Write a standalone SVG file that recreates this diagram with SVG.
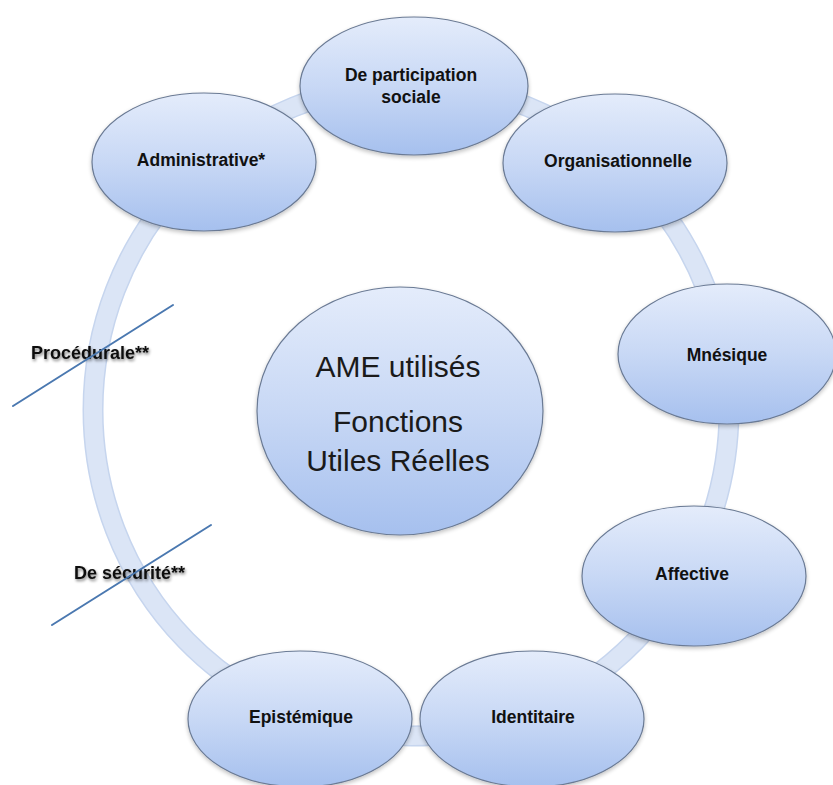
<svg xmlns="http://www.w3.org/2000/svg" width="833" height="785" viewBox="0 0 833 785">
<style>
.node{fill:url(#ng);stroke:#6a7a94;stroke-width:1.2;filter:url(#sh)}
.lbl{font-family:"Liberation Sans",Arial,sans-serif;font-weight:bold;font-size:17.5px;fill:#111;text-anchor:middle;dominant-baseline:central}
.big{font-family:"Liberation Sans",Arial,sans-serif;font-size:30px;fill:#1a1a1a;text-anchor:middle;dominant-baseline:central}
.side{font-family:"Liberation Sans",Arial,sans-serif;font-weight:bold;font-size:18px;fill:#111;dominant-baseline:central;filter:url(#ts)}
.strike{stroke:#4a78b0;stroke-width:2;stroke-linecap:round}
</style>
<defs>
<linearGradient id="ng" x1="0" y1="0" x2="0" y2="1">
<stop offset="0" stop-color="#e4ecfb"/>
<stop offset="0.5" stop-color="#c8d8f5"/>
<stop offset="1" stop-color="#a6c0ee"/>
</linearGradient>
<filter id="sh" x="-10%" y="-10%" width="120%" height="125%">
<feGaussianBlur in="SourceAlpha" stdDeviation="2"/>
<feOffset dy="2" result="b"/>
<feComponentTransfer><feFuncA type="linear" slope="0.25"/></feComponentTransfer>
<feMerge><feMergeNode/><feMergeNode in="SourceGraphic"/></feMerge>
</filter>
<filter id="ts" x="-10%" y="-40%" width="120%" height="180%">
<feGaussianBlur in="SourceAlpha" stdDeviation="1.6"/>
<feOffset dx="1" dy="1.5"/>
<feComponentTransfer><feFuncA type="linear" slope="0.5"/></feComponentTransfer>
<feMerge><feMergeNode/><feMergeNode in="SourceGraphic"/></feMerge>
</filter>
</defs>
<rect width="833" height="785" fill="#ffffff"/>
<g id="connectors">
<ellipse cx="411" cy="410" rx="318" ry="326" fill="none" stroke="#c6d5ee" stroke-width="21"/>
<ellipse cx="411" cy="410" rx="318" ry="326" fill="none" stroke="#dbe5f6" stroke-width="18"/>
</g>
<g id="center">
<ellipse class="node" cx="400" cy="411" rx="143" ry="124"/>
<text class="big" x="398" y="366">AME utilisés</text>
<text class="big" x="398" y="421">Fonctions</text>
<text class="big" x="398" y="460">Utiles Réelles</text>
</g>
<g id="participation">
<ellipse class="node" cx="414" cy="86" rx="114" ry="69"/>
<text class="lbl" x="411" y="75">De participation</text>
<text class="lbl" x="411" y="97">sociale</text>
</g>
<g id="administrative">
<ellipse class="node" cx="204" cy="162" rx="112" ry="69"/>
<text class="lbl" x="201" y="160">Administrative*</text>
</g>
<g id="organisationnelle">
<ellipse class="node" cx="615" cy="163" rx="112" ry="69"/>
<text class="lbl" x="618" y="161">Organisationnelle</text>
</g>
<g id="mnesique">
<ellipse class="node" cx="727" cy="354" rx="109" ry="70"/>
<text class="lbl" x="727" y="355">Mnésique</text>
</g>
<g id="affective">
<ellipse class="node" cx="694" cy="576" rx="112" ry="70"/>
<text class="lbl" x="692" y="574">Affective</text>
</g>
<g id="identitaire">
<ellipse class="node" cx="532" cy="719" rx="112" ry="68"/>
<text class="lbl" x="533" y="717">Identitaire</text>
</g>
<g id="epistemique">
<ellipse class="node" cx="300" cy="719" rx="112" ry="68"/>
<text class="lbl" x="301" y="717">Epistémique</text>
</g>
<g id="procedurale">
<text class="side" x="31" y="353">Procédurale**</text>
<line class="strike" x1="13" y1="406" x2="173" y2="305"/>
</g>
<g id="securite">
<text class="side" x="74" y="573">De sécurité**</text>
<line class="strike" x1="52" y1="625" x2="211" y2="525"/>
</g>
</svg>
